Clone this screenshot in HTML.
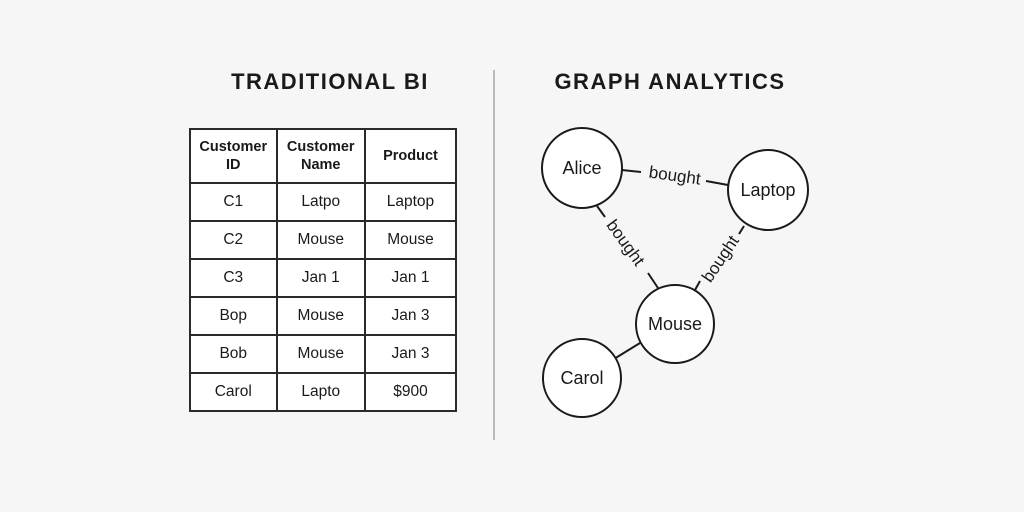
<!DOCTYPE html>
<html><head><meta charset="utf-8"><style>
body{margin:0;width:1024px;height:512px;background:#f6f6f6;font-family:"Liberation Sans",sans-serif;position:relative;overflow:hidden}
.t{position:absolute;top:69px;font-weight:bold;font-size:22px;letter-spacing:1.5px;color:#1a1a1a;text-align:center}
table{position:absolute;left:189px;top:128px;border-collapse:collapse;width:268px;background:#fff}
td{border:2px solid #2a2a2a;text-align:center;font-size:15.5px;color:#1a1a1a;height:36px;padding:0}
tr.h td{font-weight:bold;height:52px;font-size:14.5px;line-height:18px}
</style></head><body>
<div class="t" style="left:200px;width:260px">TRADITIONAL BI</div>
<div class="t" style="left:530px;width:280px">GRAPH ANALYTICS</div>
<div style="position:absolute;left:493px;top:70px;width:2px;height:370px;background:#bbb"></div>
<table>
<colgroup><col style="width:87px"><col style="width:89px"><col style="width:92px"></colgroup>
<tr class="h"><td>Customer<br>ID</td><td>Customer<br>Name</td><td>Product</td></tr>
<tr><td>C1</td><td>Latpo</td><td>Laptop</td></tr>
<tr><td>C2</td><td>Mouse</td><td>Mouse</td></tr>
<tr><td>C3</td><td>Jan 1</td><td>Jan 1</td></tr>
<tr><td>Bop</td><td>Mouse</td><td>Jan 3</td></tr>
<tr><td>Bob</td><td>Mouse</td><td>Jan 3</td></tr>
<tr><td>Carol</td><td>Lapto</td><td>$900</td></tr>
</table>
<svg width="1024" height="512" style="position:absolute;left:0;top:0" font-family="Liberation Sans, sans-serif" fill="#1a1a1a">
<g stroke="#1a1a1a" stroke-width="2">
<line x1="622" y1="170" x2="641" y2="172"/><line x1="706" y1="181" x2="728" y2="185"/>
<line x1="597" y1="206" x2="605" y2="217"/><line x1="648" y1="273" x2="658" y2="288"/>
<line x1="744" y1="226" x2="739" y2="234"/><line x1="700" y1="281" x2="695" y2="290"/>
<line x1="614" y1="359" x2="640" y2="343"/>
</g>
<g stroke="#1a1a1a" stroke-width="2" fill="#fff">
<circle cx="582" cy="168" r="40"/><circle cx="768" cy="190" r="40"/>
<circle cx="675" cy="324" r="39"/><circle cx="582" cy="378" r="39"/>
</g>
<g font-size="18" text-anchor="middle">
<text x="582" y="174">Alice</text><text x="768" y="196">Laptop</text>
<text x="675" y="330">Mouse</text><text x="582" y="384">Carol</text>
</g>
<g font-size="17" text-anchor="middle">
<text transform="translate(674,181) rotate(8)">bought</text>
<text transform="translate(621,246) rotate(54)">bought</text>
<text transform="translate(725,262) rotate(-56)">bought</text>
</g>
</svg>
</body></html>
